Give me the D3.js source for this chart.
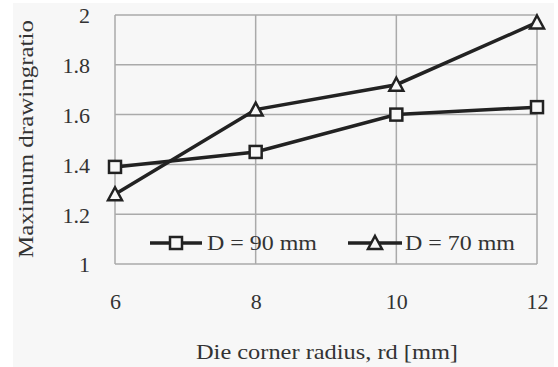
<!DOCTYPE html>
<html><head><meta charset="utf-8">
<script src="https://cdn.jsdelivr.net/npm/d3@7"></script>
<style>body{margin:0;background:#fff}svg{display:block}</style>
</head><body>
<svg id="c" width="558" height="367"></svg>
<script>
const xValues = [6, 8, 10, 12];
const d90 = [1.39, 1.45, 1.60, 1.63];
const d70 = [1.28, 1.62, 1.72, 1.97];
const yTicks = [1, 1.2, 1.4, 1.6, 1.8, 2];
const xTicks = [6, 8, 10, 12];
const seriesNames = ["D = 90 mm", "D = 70 mm"];

const FONT = '"Liberation Serif","Times New Roman",serif';
const TXT = "#333";
const svg = d3.select("#c");
svg.append("rect").attr("x",13).attr("y",3).attr("width",541).attr("height",364).attr("fill","#f7f7f7");

const L=115, R=537, T=15, B=264;
const x = d3.scaleLinear().domain([6,12]).range([L,R]);
const y = d3.scaleLinear().domain([1,2]).range([B,T]);

const grid = svg.append("g").attr("stroke","#aaa").attr("stroke-width",1.5);
yTicks.forEach(v=>grid.append("line").attr("x1",L).attr("x2",R).attr("y1",y(v)).attr("y2",y(v)));
xTicks.forEach(v=>grid.append("line").attr("y1",T).attr("y2",B).attr("x1",x(v)).attr("x2",x(v)));

function styleAxis(g){
  g.select(".domain").remove();
  g.selectAll("text").style("font-size","22px").style("font-family",FONT).style("fill",TXT);
}
const yAxis = svg.append("g").attr("transform",`translate(${L},0)`)
  .call(d3.axisLeft(y).tickValues(yTicks).tickSize(0).tickPadding(25).tickFormat(d=>String(d)));
styleAxis(yAxis);
yAxis.selectAll("text").attr("dy","0.36em");

const xAxis = svg.append("g").attr("transform",`translate(0,${B})`)
  .call(d3.axisBottom(x).tickValues(xTicks).tickSize(0).tickPadding(29).tickFormat(d=>String(d)));
styleAxis(xAxis);

function label(sel){ return sel.style("font-family",FONT).style("fill",TXT); }
label(svg.append("text").attr("x",327).attr("y",359).attr("text-anchor","middle").style("font-size","22px")
  .attr("textLength",262).attr("lengthAdjust","spacingAndGlyphs").text("Die corner radius, rd [mm]"));
label(svg.append("text").attr("transform","translate(33,139) rotate(-90)").attr("text-anchor","middle").style("font-size","22px")
  .attr("textLength",238).attr("lengthAdjust","spacingAndGlyphs").text("Maximum drawingratio"));

const line = d3.line().x((d,i)=>x(xValues[i])).y(d=>y(d));
const col="#222";
function sq(g,cx,cy){g.append("rect").attr("x",cx-6).attr("y",cy-6).attr("width",12).attr("height",12).attr("fill","#f7f7f7").attr("stroke",col).attr("stroke-width",2.5);}
function tri(g,cx,cy){g.append("path").attr("d",`M${cx},${cy-7}L${cx+7},${cy+6}L${cx-7},${cy+6}Z`).attr("fill","#f7f7f7").attr("stroke",col).attr("stroke-width",2.5);}

svg.append("path").datum(d90).attr("d",line).attr("fill","none").attr("stroke",col).attr("stroke-width",3.5);
svg.append("path").datum(d70).attr("d",line).attr("fill","none").attr("stroke",col).attr("stroke-width",3.5);
const m = svg.append("g");
d90.forEach((v,i)=>sq(m,x(xValues[i]),y(v)));
d70.forEach((v,i)=>tri(m,x(xValues[i]),y(v)));

// legend
const lg = svg.append("g");
const ly=243;
lg.append("line").attr("x1",150).attr("x2",202).attr("y1",ly).attr("y2",ly).attr("stroke",col).attr("stroke-width",3.5);
sq(lg,176,ly);
label(lg.append("text").attr("x",207).attr("y",ly+7).style("font-size","21px").attr("textLength",110).attr("lengthAdjust","spacingAndGlyphs").text(seriesNames[0]));
lg.append("line").attr("x1",348).attr("x2",402).attr("y1",ly).attr("y2",ly).attr("stroke",col).attr("stroke-width",3.5);
tri(lg,375,ly);
label(lg.append("text").attr("x",405).attr("y",ly+7).style("font-size","21px").attr("textLength",110).attr("lengthAdjust","spacingAndGlyphs").text(seriesNames[1]));
</script>
</body></html>
